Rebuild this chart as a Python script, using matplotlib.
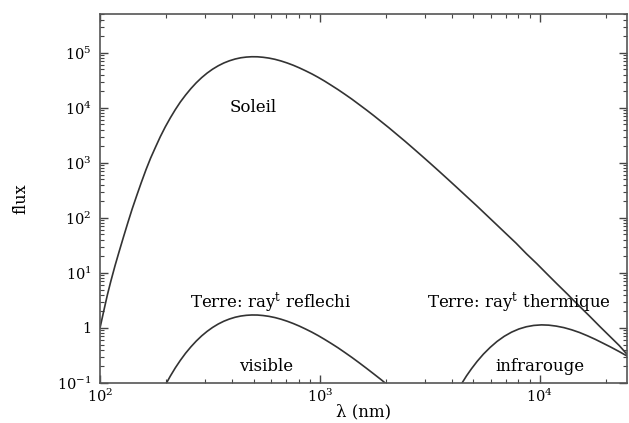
import numpy as np
import matplotlib
matplotlib.use("Agg")
import matplotlib.pyplot as plt

plt.rcParams['font.family'] = ['DejaVu Serif']
plt.rcParams['mathtext.fontset'] = 'dejavuserif'

# Values (wavelength in nm, flux)
sun_wl = [100, 104, 108, 112, 117, 122, 128, 134, 140, 147, 154, 162, 170, 179,
          188, 198, 209, 220, 232, 245, 259, 274, 290, 307, 325, 345, 366, 388,
          412, 437, 463, 490, 520, 552, 587, 625, 666, 710, 757, 808, 862, 920,
          982, 1050, 1125, 1210, 1300, 1400, 1510, 1630, 1760, 1900, 2060, 2240,
          2440, 2660, 2900, 3170, 3480, 3830, 4220, 4660, 5150, 5700, 6300, 7000,
          7800, 8700, 9700, 10800, 12000, 13400, 15000, 16800, 18800, 21000,
          23000, 25000]
sun_flux = [1.0, 2.04, 3.98, 7.08, 13.5, 24.0, 45.7, 83.2, 145, 257, 437, 759,
            1230, 1950, 2990, 4500, 6620, 9290, 12800, 17100, 22400, 28600, 35500,
            42900, 50500, 58300, 65600, 71900, 77400, 81500, 83900, 85100, 84900,
            83200, 80400, 76400, 71300, 65600, 59600, 53300, 47200, 41500, 36000,
            30800, 25900, 21500, 17700, 14400, 11500, 9160, 7230, 5660, 4370, 3300,
            2480, 1840, 1360, 993, 711, 502, 352, 244, 169, 115, 78.7, 52.7, 35.0,
            22.4, 14.8, 9.6, 6.31, 4.10, 2.60, 1.67, 1.06, 0.687, 0.481, 0.331]

refl_wl = [198, 209, 220, 232, 245, 259, 274, 290, 307, 325, 345, 366, 388, 412,
           437, 463, 490, 520, 552, 587, 625, 666, 710, 757, 808, 862, 920, 982,
           1050, 1125, 1210, 1300, 1400, 1510, 1630, 1760, 1900, 2060]
refl_flux = [0.091, 0.134, 0.188, 0.258, 0.347, 0.453, 0.578, 0.718, 0.867, 1.021,
             1.180, 1.327, 1.455, 1.567, 1.648, 1.698, 1.722, 1.718, 1.683, 1.626,
             1.545, 1.442, 1.327, 1.205, 1.079, 0.955, 0.839, 0.728, 0.622, 0.525,
             0.436, 0.358, 0.291, 0.233, 0.185, 0.146, 0.115, 0.088]

therm_wl = [4300, 4450, 4650, 4900, 5200, 5550, 5950, 6400, 6900, 7450, 8050, 8700,
            9400, 10200, 11000, 11900, 12900, 14000, 15200, 16500, 17900, 19400,
            21000, 22900, 25000]
therm_flux = [0.081, 0.102, 0.135, 0.182, 0.248, 0.335, 0.442, 0.569, 0.705, 0.839,
              0.959, 1.052, 1.112, 1.138, 1.125, 1.081, 1.014, 0.925, 0.826, 0.721,
              0.622, 0.530, 0.452, 0.376, 0.309]

ytick_vals = [0.1, 1, 10, 100, 1e3, 1e4, 1e5]
ytick_labels = ['$10^{-1}$', '1', '$10^{1}$', '$10^{2}$', '$10^{3}$', '$10^{4}$', '$10^{5}$']
xtick_vals = [100, 1000, 10000]
xtick_labels = ['$10^{2}$', '$10^{3}$', '$10^{4}$']

fig = plt.figure(figsize=(6.29, 4.23), dpi=100)
ax = fig.add_axes([0.159, 0.0946, 0.838, 0.8724])

lc = '#333333'
ax.plot(sun_wl, sun_flux, color=lc, lw=1.2)
ax.plot(refl_wl, refl_flux, color=lc, lw=1.2)
ax.plot(therm_wl, therm_flux, color=lc, lw=1.2)

ax.set_xscale('log')
ax.set_yscale('log')
ax.set_xlim(100, 25000)
ax.set_ylim(0.1, 5.1e5)

ax.set_xticks(xtick_vals)
ax.set_xticklabels(xtick_labels)
ax.set_yticks(ytick_vals)
ax.set_yticklabels(ytick_labels)
ax.tick_params(which='both', direction='in', top=True, right=True, colors='#444444',
               labelcolor='black', labelsize=10.5)
ax.tick_params(which='major', length=6, width=1)
ax.tick_params(which='minor', length=3, width=0.8)
ax.tick_params(axis='y', which='major', pad=6)
for s in ax.spines.values():
    s.set_color('#555555')
    s.set_linewidth(1.2)

ax.set_xlabel('λ (nm)', fontsize=12, labelpad=-1)
ax.set_ylabel('flux', fontsize=11.5, labelpad=20)

fs = 12
ax.text(500, 1e4, 'Soleil', ha='center', va='center', fontsize=fs)
ax.text(600, 3.0, 'Terre: ray$^{\\rm t}$ reflechi', ha='center', va='center', fontsize=fs)
ax.text(570, 0.2, 'visible', ha='center', va='center', fontsize=fs)
ax.text(8030, 3.0, 'Terre: ray$^{\\rm t}$ thermique', ha='center', va='center', fontsize=fs)
ax.text(10000, 0.2, 'infrarouge', ha='center', va='center', fontsize=fs)

fig.savefig('out.png', dpi=100)
